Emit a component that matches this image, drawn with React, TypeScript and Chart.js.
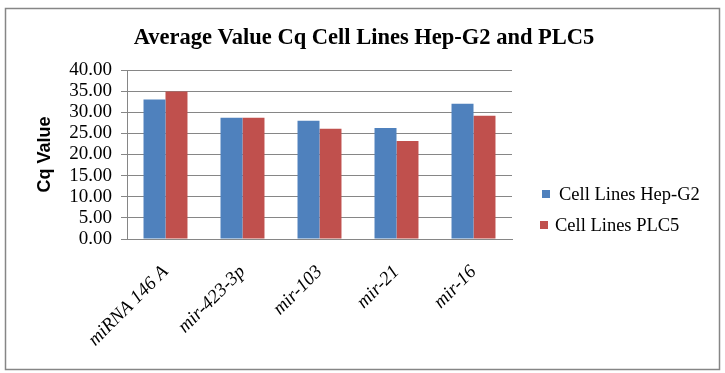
import React, { useEffect, useRef } from "react";
import { Chart, registerables } from "chart.js";

Chart.register(...registerables);

const categories = ["miRNA 146 A", "mir-423-3p", "mir-103", "mir-21", "mir-16"];
const hepG2 = [33.0, 28.7, 28.0, 26.3, 32.0];
const plc5 = [34.9, 28.7, 26.1, 23.2, 29.2];
const seriesNames = ["Cell Lines Hep-G2", "Cell Lines PLC5"];
const seriesColors = ["#4F81BD", "#C0504D"];
const titleText = "Average Value Cq Cell Lines Hep-G2 and PLC5";
const yTitle = "Cq Value";

const SERIF = "'Liberation Serif', 'Times New Roman', serif";

const decorPlugin = {
  id: "decor",
  beforeDraw(chart: any) {
    const ctx = chart.ctx;
    ctx.save();
    ctx.fillStyle = "#ffffff";
    ctx.fillRect(0, 0, chart.width, chart.height);
    ctx.restore();
  },
  afterDraw(chart: any) {
    const ctx = chart.ctx;
    ctx.save();
    // outer border
    ctx.strokeStyle = "#868686";
    ctx.lineWidth = 1.5;
    ctx.strokeRect(5.5, 8.5, 714, 361);
    // title
    ctx.fillStyle = "#000";
    ctx.font = `bold 22.5px ${SERIF}`;
    ctx.textAlign = "center";
    ctx.textBaseline = "middle";
    ctx.fillText(titleText, 364, 38);
    // legend
    ctx.font = `18.5px ${SERIF}`;
    ctx.textAlign = "left";
    const items = [
      { sx: 542, y: 194, tx: 559 },
      { sx: 540, y: 225, tx: 555 },
    ];
    chart.data.datasets.forEach((ds: any, i: number) => {
      const it = items[i];
      ctx.fillStyle = ds.backgroundColor;
      ctx.fillRect(it.sx, it.y - 4, 8, 8);
      ctx.fillStyle = "#000";
      ctx.fillText(ds.label, it.tx, it.y + 1);
    });
    ctx.restore();
  },
};

export default function App() {
  const ref = useRef<HTMLCanvasElement>(null);
  useEffect(() => {
    if (!ref.current) return;
    const chart = new Chart(ref.current, {
      type: "bar",
      data: {
        labels: categories,
        datasets: [
          { label: seriesNames[0], data: hepG2, backgroundColor: seriesColors[0] },
          { label: seriesNames[1], data: plc5, backgroundColor: seriesColors[1] },
        ],
      },
      options: {
        animation: false,
        responsive: false,
        devicePixelRatio: 1,
        layout: { padding: { left: 30, right: 213, top: 70, bottom: 0 } },
        plugins: {
          legend: { display: false },
          title: { display: false },
          tooltip: { enabled: false },
        },
        datasets: { bar: { categoryPercentage: 0.571, barPercentage: 1.0 } },
        scales: {
          x: {
            grid: { display: false, drawTicks: false },
            border: { display: true, color: "#868686", width: 1 },
            ticks: {
              maxRotation: 45,
              minRotation: 45,
              autoSkip: false,
              color: "#000",
              padding: 22,
              font: { family: SERIF, size: 19, style: "italic" },
            },
            afterFit: (s: any) => {
              s.height = 134;
            },
          },
          y: {
            min: 0,
            max: 40,
            ticks: {
              stepSize: 5,
              autoSkip: false,
              color: "#000",
              padding: 9,
              font: { family: SERIF, size: 19 },
              callback: (v: any) => Number(v).toFixed(2),
            },
            grid: { color: "#868686", tickLength: 6, drawTicks: true },
            border: { display: true, color: "#868686" },
            title: {
              display: true,
              text: yTitle,
              color: "#000",
              font: { family: "'Liberation Sans', Arial, sans-serif", size: 18, weight: "bold" },
            },
            afterFit: (s: any) => {
              s.width = 97;
            },
          },
        },
      },
      plugins: [decorPlugin],
    });
    return () => chart.destroy();
  }, []);
  return (
    <div style={{ position: "absolute", left: 0, top: 0, width: 725, height: 373 }}>
      <canvas ref={ref} width={725} height={373} style={{ width: 725, height: 373, display: "block" }} />
    </div>
  );
}
